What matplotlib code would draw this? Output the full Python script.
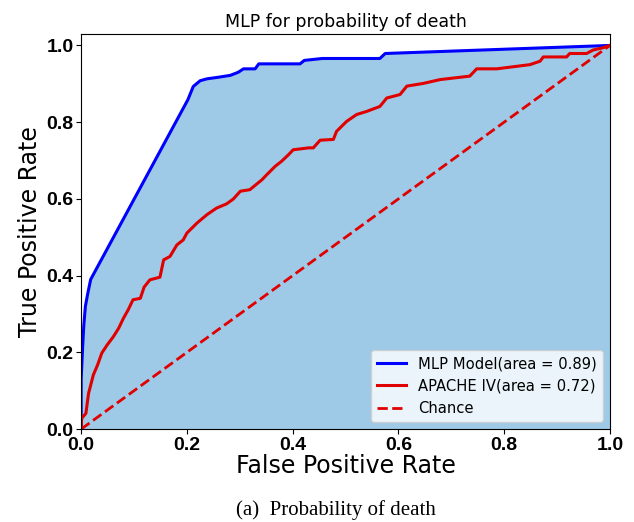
import numpy as np
import matplotlib
matplotlib.use('Agg')
import matplotlib.pyplot as plt

# ROC points
mlp_fpr = [0.0, 0.0, 0.003, 0.005, 0.008, 0.012, 0.018, 0.202, 0.212, 0.225, 0.238, 0.259,
           0.282, 0.297, 0.307, 0.329, 0.336, 0.414, 0.422, 0.456, 0.565, 0.575, 1.0]
mlp_tpr = [0.0, 0.13, 0.22, 0.27, 0.32, 0.35, 0.39, 0.859, 0.893, 0.908, 0.913, 0.917,
           0.922, 0.930, 0.939, 0.939, 0.952, 0.952, 0.961, 0.966, 0.966, 0.979, 1.0]

apache_fpr = [0.0, 0.001, 0.009, 0.014, 0.023, 0.031, 0.039, 0.049, 0.061, 0.071, 0.080,
              0.089, 0.098, 0.112, 0.119, 0.130, 0.149, 0.156, 0.168, 0.181, 0.193, 0.200,
              0.219, 0.238, 0.256, 0.275, 0.288, 0.301, 0.319, 0.342, 0.351, 0.367, 0.379,
              0.392, 0.401, 0.430, 0.439, 0.452, 0.477, 0.483, 0.502, 0.521, 0.540, 0.565,
              0.578, 0.603, 0.616, 0.647, 0.679, 0.704, 0.735, 0.748, 0.786, 0.849, 0.868,
              0.874, 0.918, 0.924, 0.956, 0.968, 0.987, 1.0]
apache_tpr = [0.0, 0.028, 0.041, 0.093, 0.141, 0.167, 0.198, 0.219, 0.241, 0.263, 0.289,
              0.311, 0.337, 0.341, 0.370, 0.389, 0.396, 0.441, 0.450, 0.480, 0.493, 0.511,
              0.537, 0.559, 0.576, 0.587, 0.600, 0.620, 0.624, 0.650, 0.663, 0.685, 0.698,
              0.715, 0.728, 0.733, 0.733, 0.753, 0.755, 0.776, 0.802, 0.820, 0.828, 0.841,
              0.863, 0.872, 0.894, 0.901, 0.911, 0.915, 0.920, 0.939, 0.939, 0.950, 0.959,
              0.970, 0.970, 0.979, 0.979, 0.988, 0.994, 1.0]

mlp_auc = 0.89
apache_auc = 0.72

fig = plt.figure(figsize=(6.34, 5.22), dpi=100)
ax = fig.add_axes([0.128, 0.178, 0.834, 0.757])

ax.fill_between(mlp_fpr, mlp_tpr, color='#9ecae8')
ax.plot(mlp_fpr, mlp_tpr, color='blue', lw=2.2,
        label='MLP Model(area = %0.2f)' % mlp_auc)
ax.plot(apache_fpr, apache_tpr, color='#e00000', lw=2.2,
        label='APACHE IV(area = %0.2f)' % apache_auc)
ax.plot([0, 1], [0, 1], color='#e00000', lw=2, ls='--', label='Chance')

ax.set_xlim(0, 1)
ax.set_ylim(0, 1.03)
ax.set_xticks([0, 0.2, 0.4, 0.6, 0.8, 1.0])
ax.set_yticks([0, 0.2, 0.4, 0.6, 0.8, 1.0])
for lab in ax.get_xticklabels() + ax.get_yticklabels():
    lab.set_fontfamily('Liberation Sans')
    lab.set_fontweight('bold')
    lab.set_fontsize(14)
ax.tick_params(pad=2)

ax.set_xlabel('False Positive Rate', fontsize=17, labelpad=0)
ax.set_ylabel('True Positive Rate', fontsize=17, labelpad=3)
ax.set_title('MLP for probability of death', fontsize=12.5, pad=5)
ax.legend(loc='lower right', fontsize=10.6, borderaxespad=0.5)

fig.text(0.53, 0.004, '(a)  Probability of death', family='Liberation Serif',
         fontsize=15, ha='center', va='bottom')

fig.savefig('out.png', dpi=100)
